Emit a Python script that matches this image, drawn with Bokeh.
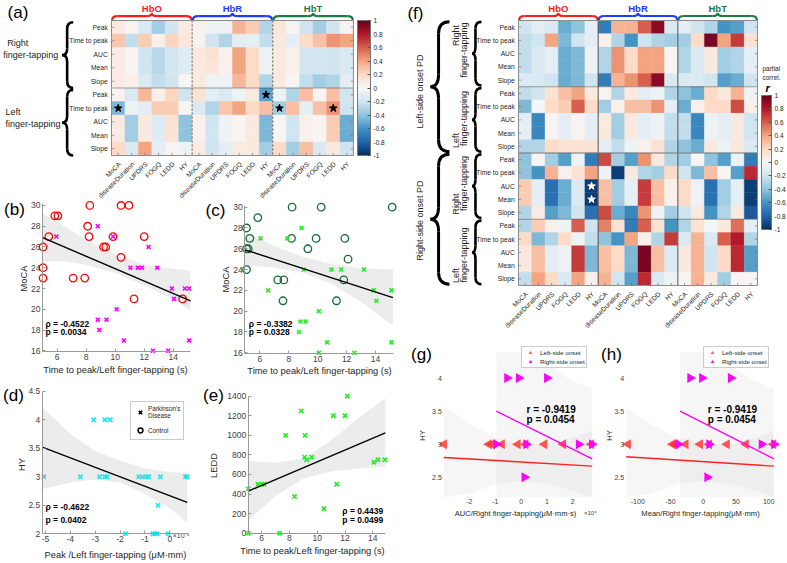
import numpy as np
from bokeh.plotting import figure
from bokeh.models import (ColumnDataSource, Range1d, LinearColorMapper, ColorBar, FixedTicker,
                          Legend, LegendItem, CustomJSTickFormatter, LinearAxis)
from bokeh.layouts import row, column
from bokeh.palettes import RdBu11
from bokeh.core.properties import value
from bokeh.embed import file_html
from bokeh.resources import INLINE

FONT = "Liberation Sans"
TXT = "#262626"

# ---------------- heatmap labels ----------------
measures = ["MoCA", "diseaseDuration", "UPDRS", "FOGQ", "LEDD", "HY"]
chromophores = ["HbO", "HbR", "HbT"]
chromo_colors = ["#ff1a1a", "#1f3cff", "#1c7a4a"]
features = ["Peak", "Time to peak", "AUC", "Mean", "Slope"]
cbar_ticks = [-1, -0.8, -0.6, -0.4, -0.2, 0, 0.2, 0.4, 0.6, 0.8, 1]

# ---------------- (a) partial correlations, all PD ----------------
a_R_peak = [0.10, 0.03, -0.15, -0.35, -0.20, 0.08, 0.05, -0.05, -0.05, 0.35, 0.25, -0.30, 0.12, 0.02, -0.20, -0.35, -0.20, 0.03]
a_R_ttp = [0.28, -0.25, 0.25, 0.05, 0.22, 0.12, 0.03, -0.20, -0.30, -0.10, -0.10, -0.25, 0.10, -0.10, 0.20, 0.30, 0.45, 0.40]
a_R_auc = [0.08, 0.02, -0.20, -0.28, -0.18, -0.12, 0.10, 0.15, 0.05, 0.40, 0.20, -0.05, 0.10, 0.05, -0.18, -0.18, -0.20, -0.15]
a_R_mean = [0.08, 0.02, -0.20, -0.28, -0.18, -0.12, 0.10, 0.12, 0.05, 0.40, 0.20, -0.05, 0.10, 0.05, -0.18, -0.18, -0.20, -0.15]
a_R_slope = [0.08, 0.06, -0.15, -0.25, -0.20, 0.02, 0.10, -0.05, -0.05, 0.33, 0.20, -0.30, 0.10, 0.02, -0.25, -0.35, -0.30, -0.10]
a_L_peak = [0.03, -0.15, 0.33, 0.05, 0.22, -0.20, 0.15, -0.10, -0.15, -0.05, 0.10, -0.55, -0.05, -0.30, 0.30, 0.02, 0.30, -0.20]
a_L_ttp = [-0.45, -0.05, -0.10, 0.25, 0.25, 0.02, -0.15, -0.30, 0.28, 0.40, 0.20, 0.30, -0.35, 0.30, -0.10, 0.30, 0.45, -0.20]
a_L_auc = [0.10, -0.35, 0.10, -0.12, 0.15, -0.40, 0.05, -0.20, -0.05, 0.02, 0.10, -0.45, 0.02, -0.20, 0.05, 0.02, 0.25, -0.50]
a_L_mean = [0.08, -0.35, 0.10, -0.12, 0.15, -0.40, 0.05, -0.20, -0.05, 0.02, 0.10, -0.45, 0.02, -0.20, 0.05, 0.02, 0.25, -0.50]
a_L_slope = [0.20, -0.15, 0.40, -0.10, 0.03, -0.05, 0.08, -0.20, -0.10, 0.10, 0.10, -0.35, 0.20, -0.35, 0.30, -0.15, 0.10, -0.20]
a_star_row = [5, 6, 6, 6]
a_star_col = [11, 0, 12, 16]

# ---------------- (f) partial correlations by onset side ----------------
f_L_R_peak = [-0.20, -0.10, -0.15, -0.50, -0.40, -0.10, -0.70, 0.35, 0.35, 0.60, 0.90, -0.15, -0.10, -0.20, -0.30, -0.60, -0.55, -0.20]
f_L_R_ttp = [-0.25, -0.20, 0.40, -0.45, -0.20, -0.10, 0.05, -0.30, -0.60, -0.20, -0.30, -0.35, -0.35, 0.20, 0.95, 0.40, 0.70, 0.15]
f_L_R_auc = [-0.25, -0.15, -0.10, -0.50, -0.45, -0.05, -0.30, 0.45, 0.20, 0.40, 0.40, 0.02, -0.30, -0.15, 0.10, -0.35, -0.30, -0.10]
f_L_R_mean = [-0.25, -0.15, -0.10, -0.50, -0.45, -0.05, -0.30, 0.45, 0.20, 0.40, 0.40, 0.02, -0.30, -0.15, 0.10, -0.35, -0.30, -0.10]
f_L_R_slope = [-0.15, -0.15, -0.20, -0.50, -0.45, -0.20, -0.70, 0.35, 0.45, 0.60, 0.90, -0.15, -0.15, -0.15, -0.20, -0.55, -0.50, -0.20]
f_L_L_peak = [-0.25, -0.20, 0.15, 0.30, 0.40, 0.10, 0.03, -0.30, 0.10, -0.10, -0.05, -0.30, -0.40, -0.50, 0.20, 0.10, 0.35, -0.05]
f_L_L_ttp = [-0.45, -0.02, 0.20, 0.25, 0.60, 0.20, -0.35, 0.05, 0.30, 0.30, 0.45, -0.10, -0.50, 0.05, 0.20, 0.20, 0.65, 0.05]
f_L_L_auc = [-0.10, -0.65, 0.03, -0.10, 0.03, -0.10, 0.10, -0.35, 0.10, -0.10, -0.05, -0.25, -0.25, -0.65, -0.05, -0.10, 0.10, -0.20]
f_L_L_mean = [-0.10, -0.65, 0.03, -0.10, 0.03, -0.10, 0.10, -0.35, 0.10, -0.10, -0.05, -0.25, -0.25, -0.65, -0.05, -0.10, 0.10, -0.20]
f_L_L_slope = [-0.30, -0.30, 0.20, 0.15, 0.15, 0.15, -0.10, -0.25, -0.05, 0.05, 0.15, -0.30, -0.40, -0.50, 0.10, -0.05, 0.10, -0.15]
f_R_R_peak = [-0.40, 0.02, -0.35, -0.55, -0.05, -0.70, 0.65, -0.35, -0.55, 0.45, 0.10, -0.30, -0.35, 0.02, -0.40, -0.55, -0.05, -0.70]
f_R_R_ttp = [-0.40, -0.60, 0.35, 0.05, 0.15, 0.40, -0.05, -0.95, 0.10, -0.30, -0.35, 0.20, -0.20, -0.45, 0.30, 0.03, -0.55, 0.75]
f_R_R_auc = [0.25, -0.10, -0.75, -0.50, -0.15, -0.95, 0.30, -0.35, -0.10, 0.70, 0.30, 0.05, 0.20, -0.05, -0.75, -0.35, -0.10, -0.95]
f_R_R_mean = [0.25, -0.10, -0.75, -0.50, -0.15, -0.95, 0.30, -0.35, -0.10, 0.70, 0.30, 0.05, 0.20, -0.05, -0.75, -0.35, -0.10, -0.95]
f_R_R_slope = [-0.30, 0.08, -0.55, -0.45, -0.20, -0.75, 0.65, -0.50, -0.65, 0.45, -0.05, -0.35, -0.20, 0.10, -0.60, -0.30, 0.10, -0.85]
f_R_L_peak = [-0.30, 0.25, 0.05, -0.05, 0.60, -0.20, 0.50, 0.15, -0.70, 0.60, 0.15, -0.60, -0.30, 0.15, -0.02, 0.10, 0.55, -0.10]
f_R_L_ttp = [0.20, -0.45, -0.30, 0.20, -0.05, -0.25, -0.40, -0.60, 0.40, 0.05, -0.30, 0.70, -0.15, 0.35, -0.15, 0.60, 0.80, -0.30]
f_R_L_auc = [0.10, 0.30, -0.10, -0.05, 0.70, -0.45, 0.30, 0.20, -0.45, 0.95, 0.30, -0.15, 0.10, 0.35, -0.20, 0.20, 0.75, -0.55]
f_R_L_mean = [0.10, 0.30, -0.10, -0.05, 0.70, -0.45, 0.30, 0.20, -0.45, 0.95, 0.30, -0.15, 0.10, 0.35, -0.20, 0.20, 0.75, -0.55]
f_R_L_slope = [-0.25, 0.40, 0.20, -0.15, 0.40, 0.05, 0.35, -0.20, -0.55, 0.75, -0.15, -0.05, 0.02, 0.35, 0.10, -0.35, 0.02, 0.02]
f_star_row = [12, 13]
f_star_col = [5, 5]

# ---------------- (b) MoCA vs time to peak (HbO) ----------------
b_ctrl_x = [5.03, 5.03, 5.03, 5.43, 5.84, 6.05, 7.1, 7.9, 8.1, 8.2, 8.25, 9.2, 9.35, 9.85, 10.4, 10.4, 10.95, 11.3, 12.0, 14.65]
b_ctrl_y = [26, 24, 23, 27, 29, 29, 23, 23, 28, 27, 30, 26, 26, 27, 25, 30, 30, 21, 27, 21]
b_pd_x = [5.95, 8.8, 8.8, 8.9, 9.4, 9.85, 10.1, 10.6, 11.05, 11.55, 11.85, 12.3, 12.6, 12.9, 13.65, 13.9, 14.05, 14.8, 15.1, 15.1]
b_pd_y = [27, 28, 19, 18, 19, 27, 20, 17, 24, 24, 24, 26, 16, 24, 16, 22, 21, 22, 22, 17]
b_fit_x = [5.0, 15.19]
b_fit_y = [26.9, 20.8]
b_ci_x = [5.0, 6.5, 8.0, 10.0, 12.0, 13.5, 15.19]
b_ci_hi = [29.2, 28.0, 26.7, 25.3, 24.3, 24.0, 23.7]
b_ci_lo = [24.6, 24.6, 24.3, 23.5, 22.3, 21.3, 19.9]

# ---------------- (c) MoCA vs time to peak (HbT) ----------------
c_ctrl_x = [5.08, 5.08, 5.08, 5.2, 5.31, 5.86, 7.24, 7.66, 7.6, 8.19, 8.23, 9.32, 9.89, 10.24, 11.3, 11.88, 11.8, 12.1, 15.15]
c_ctrl_y = [28, 26, 24, 26, 27, 29, 23, 23, 21, 27, 30, 26, 27, 30, 21, 27, 23, 25, 30]
c_pd_x = [6.05, 6.58, 7.9, 8.7, 8.81, 8.88, 9.04, 9.16, 10.08, 10.08, 10.65, 10.95, 11.62, 12.54, 13.19, 13.88, 14.06, 15.1, 15.1]
c_pd_y = [27, 22, 27, 18, 19, 28, 24, 19, 20, 16, 17, 24, 24, 16, 24, 22, 21, 22, 17]
c_fit_x = [4.98, 15.2]
c_fit_y = [25.9, 21.3]
c_ci_x = [4.98, 7.0, 9.0, 11.0, 13.0, 15.2]
c_ci_hi = [27.6, 26.3, 25.2, 24.5, 24.1, 24.0]
c_ci_lo = [24.4, 24.2, 23.7, 22.6, 20.9, 18.6]

# ---------------- (d) HY vs peak (x 1e-5) ----------------
d_pd_x = [-5.07, -3.59, -3.06, -2.61, -2.39, -2.82, -2.61, -2.52, -1.25, -1.1, -0.95, -0.85, -0.38, 0.63, 0.7, -0.47, -1.78, -0.68, -0.6, -0.51, -0.07]
d_pd_y = [3, 3, 4, 4, 4, 3, 3, 3, 3, 3, 3, 3, 3, 3, 3, 2.5, 2, 2, 2, 2, 2]
d_fit_x = [-5.13, 0.7]
d_fit_y = [3.52, 2.55]
d_ci_x = [-5.13, -4.0, -3.0, -2.0, -1.0, 0.0, 0.7]
d_ci_hi = [4.22, 3.75, 3.45, 3.28, 3.15, 3.08, 3.07]
d_ci_lo = [2.78, 2.9, 2.95, 2.9, 2.7, 2.45, 2.2]

# ---------------- (e) LEDD vs time to peak ----------------
e_pd_x = [5.04, 5.04, 5.74, 6.0, 6.17, 7.3, 7.73, 8.37, 8.85, 9.09, 9.24, 9.12, 9.6, 10.48, 11.16, 11.4, 12.0, 12.16, 14.08, 14.37, 14.87]
e_pd_y = [453, 0, 500, 500, 500, 0, 1000, 375, 1250, 777, 750, 1000, 777, 250, 1200, 500, 1200, 1400, 725, 750, 750]
e_fit_x = [5.04, 14.9]
e_fit_y = [430, 1025]
e_ci_x = [5.04, 7.0, 9.0, 11.0, 13.0, 14.9]
e_ci_hi = [740, 720, 760, 950, 1180, 1380]
e_ci_lo = [130, 380, 560, 630, 660, 680]

# ---------------- (g) HY vs AUC (x 1e4) ----------------
g_left_x = [-2.98, -1.25, -1.12, -0.74, -0.13, 0.17, 0.9, 1.63, 2.71]
g_left_y = [3, 3, 3, 3, 3, 3, 3, 3, 3]
g_right_x = [-0.54, -0.09, 1.0, 0.13, -0.96, 0.2, 2.23, 2.74]
g_right_y = [4, 4, 4, 2.5, 3, 3, 3, 3]
g_fitL_x = [-2.99, 2.75]
g_fitL_y = [2.8, 2.67]
g_fitR_x = [-0.96, 2.75]
g_fitR_y = [3.5, 2.78]
g_ciL_x = [-2.99, -2.0, -1.0, 0.0, 1.0, 2.0, 2.75]
g_ciL_hi = [3.58, 3.3, 3.1, 3.0, 3.0, 3.1, 3.2]
g_ciL_lo = [2.2, 2.25, 2.4, 2.45, 2.4, 2.3, 2.2]
g_ciR_x = [-0.96, 0.0, 1.0, 2.0, 2.75]
g_ciR_hi = [4.39, 4.39, 4.2, 3.95, 3.84]
g_ciR_lo = [2.2, 2.2, 2.2, 2.2, 2.2]

# ---------------- (h) HY vs Mean ----------------
h_left_x = [-115, -47, -43, -27, -5, 9, 36, 65, 107]
h_left_y = [3, 3, 3, 3, 3, 3, 3, 3, 3]
h_right_x = [-20, -2, 42, 6, -38, 9, 89, 108]
h_right_y = [4, 4, 4, 2.5, 3, 3, 3, 3]
h_fitL_x = [-117.7, 107.6]
h_fitL_y = [2.81, 2.67]
h_fitR_x = [-35.5, 107.6]
h_fitR_y = [3.5, 2.78]
h_ciL_x = [-117.7, -80, -40, 0, 40, 80, 107.6]
h_ciL_hi = [3.56, 3.3, 3.1, 3.0, 3.0, 3.1, 3.2]
h_ciL_lo = [2.2, 2.25, 2.4, 2.45, 2.4, 2.3, 2.2]
h_ciR_x = [-35.5, 0, 40, 80, 107.6]
h_ciR_hi = [4.39, 4.39, 4.2, 3.95, 3.84]
h_ciR_lo = [2.2, 2.2, 2.2, 2.2, 2.2]

# ---------------- colour map (blue = -1 ... red = +1) ----------------
rgb = np.array([[int(c[i:i + 2], 16) for i in (1, 3, 5)] for c in RdBu11], dtype=float)
stops = np.linspace(0, 1, len(RdBu11))
palette = []
for t in np.linspace(0, 1, 256):
    palette.append("#%02x%02x%02x" % tuple(int(round(np.interp(t, stops, rgb[:, k]))) for k in range(3)))
mapper = LinearColorMapper(palette=palette, low=-1, high=1)


def fmt():
    return CustomJSTickFormatter(code="return String(Math.round(tick*100)/100);")


def hbrace(p, xa, xb, yb, ym, yt, r, color, lw):
    xc = (xa + xb) / 2
    p.quadratic(x0=[xa, xc - r, xc, xb - r], y0=[yb, ym, yt, ym],
                x1=[xa + r, xc, xc + r, xb], y1=[ym, yt, ym, yb],
                cx=[xa, xc, xc, xb], cy=[ym, ym, ym, ym], line_color=color, line_width=lw)
    p.segment(x0=[xa + r, xc + r], y0=[ym, ym], x1=[xc - r, xb - r], y1=[ym, ym],
              line_color=color, line_width=lw)


def vbrace(p, ya, yb, xe, xm, xt, r, color, lw):
    yc = (ya + yb) / 2
    p.quadratic(x0=[xe, xm, xt, xm], y0=[ya, yc - r, yc, yb - r],
                x1=[xm, xt, xm, xe], y1=[ya + r, yc, yc + r, yb],
                cx=[xm, xm, xm, xm], cy=[ya, yc, yc, yb], line_color=color, line_width=lw)
    p.segment(x0=[xm, xm], y0=[ya + r, yc + r], x1=[xm, xm], y1=[yc - r, yb - r],
              line_color=color, line_width=lw)


def txt(p, x, y, s, size, color=TXT, align="left", baseline="middle", angle=0.0, style="normal"):
    p.text(x=x, y=y, text=s, text_font=value(FONT), text_font_size=size, text_color=color,
           text_align=align, text_baseline=baseline, angle=angle, text_font_style=style)


def make_heatmap(rows, width, height, x0, y0, cw, ch, star_r, star_c, star_color,
                 vline_dash, hsolid):
    n, m = len(rows), len(rows[0])
    p = figure(width=width, height=height,
               x_range=Range1d(-x0 / cw, (width - x0) / cw),
               y_range=Range1d((height - y0) / ch, -y0 / ch),
               x_axis_type=None, y_axis_type=None, title=None,
               toolbar_location=None, output_backend="svg", min_border=0)
    p.outline_line_color = None
    xs, ys, vs = [], [], []
    for i, r in enumerate(rows):
        for j, v in enumerate(r):
            xs.append(j + 0.5)
            ys.append(i + 0.5)
            vs.append(v)
    src = ColumnDataSource(dict(x=xs, y=ys, v=vs))
    cmap = {"field": "v", "transform": mapper}
    p.rect(x="x", y="y", width=1, height=1, source=src, fill_color=cmap, line_color=cmap, line_width=0.4)
    p.segment(x0=[6, 12], y0=[0, 0], x1=[6, 12], y1=[n, n], line_color="#555555",
              line_width=1, line_dash=vline_dash)
    dotted = [k for k in range(5, n, 5) if k not in hsolid]
    p.segment(x0=[0] * len(dotted), y0=dotted, x1=[m] * len(dotted), y1=dotted,
              line_color="#222222", line_width=0.8, line_dash="1 1")
    if hsolid:
        p.segment(x0=[0] * len(hsolid), y0=hsolid, x1=[m] * len(hsolid), y1=hsolid,
                  line_color="#777777", line_width=1.2)
    rc = [i + 0.5 for i in range(n)]
    cc = [j + 0.5 for j in range(m)]
    p.segment(x0=[0] * n, y0=rc, x1=[0.2] * n, y1=rc, line_color="#666666", line_width=0.6)
    p.segment(x0=[m] * n, y0=rc, x1=[m - 0.2] * n, y1=rc, line_color="#666666", line_width=0.6)
    p.segment(x0=cc, y0=[n] * m, x1=cc, y1=[n - 0.2] * m, line_color="#666666", line_width=0.6)
    p.quad(left=[0], right=[m], top=[0], bottom=[n], fill_color=None, line_color="#8c8c8c", line_width=1)
    p.scatter(x=[c + 0.5 for c in star_c], y=[r + 0.5 for r in star_r], marker="star", size=8,
              fill_color=star_color, line_color=star_color)
    txt(p, [-0.28] * n, rc, (features * (n // 5)), "6.7px", align="right")
    txt(p, [j + 0.6 for j in range(m)], [n + 0.55] * m, measures * 3, "6.6px",
        align="right", angle=np.pi / 4)
    return p


def add_cbar(p, x, y, w, h):
    cb = ColorBar(color_mapper=mapper, location=(x, y), width=w, height=h, padding=0,
                  orientation="vertical", ticker=FixedTicker(ticks=cbar_ticks), formatter=fmt(),
                  major_label_text_font_size="6.5px", major_label_text_font=FONT,
                  major_label_text_color=TXT, label_standoff=3, major_tick_in=3, major_tick_out=0,
                  major_tick_line_color="#555555", minor_tick_line_color=None,
                  bar_line_color="#777777", border_line_color=None, background_fill_color=None)
    p.add_layout(cb)


# ================= (a)  page box (0,0)-(400,200) =================
AX0, AY0, ACW, ACH = 111, 20, 13.44, 13.5
fa = make_heatmap([a_R_peak, a_R_ttp, a_R_auc, a_R_mean, a_R_slope,
                   a_L_peak, a_L_ttp, a_L_auc, a_L_mean, a_L_slope],
                  400, 200, AX0, AY0, ACW, ACH, a_star_row, a_star_col, "black", "2 2", [])
for g in range(3):
    hbrace(fa, 6 * g + 0.05, 6 * g + 5.95, -0.04, -0.32, -0.56, 0.4, chromo_colors[g], 2.2)
txt(fa, [6 * g + 3 for g in range(3)], [-0.89] * 3, chromophores, "9.5px", color=chromo_colors,
    align="center", style="bold")
vbrace(fa, 0.13, 5.0, -2.85, -3.3, -3.67, 0.5, "black", 2.6)
vbrace(fa, 5.15, 10.0, -2.85, -3.3, -3.67, 0.5, "black", 2.6)
txt(fa, [-7.76, -8.06, -7.89, -7.89], [1.7, 2.59, 6.81, 7.63],
    ["Right", "finger-tapping", "Left", "finger-tapping"], "9px")
txt(fa, [-6.96], [-0.61], ["(a)"], "17px", color="black", align="center")
add_cbar(fa, 357, 45, 13, 135)

# ================= (f)  page box (400,0)-(787,330) =================
FX0, FY0, FCW, FCH = 118, 20, 13.28, 13.25
ff = make_heatmap([f_L_R_peak, f_L_R_ttp, f_L_R_auc, f_L_R_mean, f_L_R_slope,
                   f_L_L_peak, f_L_L_ttp, f_L_L_auc, f_L_L_mean, f_L_L_slope,
                   f_R_R_peak, f_R_R_ttp, f_R_R_auc, f_R_R_mean, f_R_R_slope,
                   f_R_L_peak, f_R_L_ttp, f_R_L_auc, f_R_L_mean, f_R_L_slope],
                  387, 330, FX0, FY0, FCW, FCH, f_star_row, f_star_col, "white", "solid", [10])
for g in range(3):
    hbrace(ff, 6 * g + 0.05, 6 * g + 5.95, -0.04, -0.34, -0.57, 0.4, chromo_colors[g], 2.2)
txt(ff, [6 * g + 3 for g in range(3)], [-0.88] * 3, chromophores, "9.5px", color=chromo_colors,
    align="center", style="bold")
for k in range(4):
    vbrace(ff, 5 * k + 0.1, 5 * k + 4.9, -2.79, -3.24, -3.49, 0.5, "black", 2.6)
vbrace(ff, 0.1, 9.9, -5.2, -6.02, -6.63, 0.9, "black", 3)
vbrace(ff, 10.1, 19.9, -5.2, -6.02, -6.63, 0.9, "black", 3)
txt(ff, [-4.74, -4.07, -4.74, -4.07, -4.74, -4.07, -4.74, -4.07],
    [1.13, 2.23, 9.06, 7.4, 13.85, 12.3, 19.25, 17.7],
    ["Right", "finger-tapping", "Left", "finger-tapping",
     "Right", "finger-tapping", "Left", "finger-tapping"], "9px", align="center", angle=np.pi / 2)
txt(ff, [-7.38, -7.38], [5.36, 15.1], ["Left-side onset PD", "Right-side onset PD"], "9px",
    align="center", angle=np.pi / 2)
txt(ff, [-7.76], [-0.53], ["(f)"], "17px", color="black", align="center")
txt(ff, [18.37, 18.37], [3.62, 4.3], ["partial", "correl."], "6.5px")
txt(ff, [18.6], [5.13], ["r"], "11px", color="black", style="bold italic")
add_cbar(ff, 361, 101, 10, 134)


# ================= scatter panels =================
class Box:
    """Page box of a panel figure, and the page box of its plot area with its data limits."""

    def __init__(self, X0, Y0, W, H, pl, pr, pt, pb, xa, xb, ya, yb):
        self.X0, self.Y0, self.W, self.H = X0, Y0, W, H
        self.pl, self.pr, self.pt, self.pb = pl, pr, pt, pb
        self.xa, self.xb, self.ya, self.yb = xa, xb, ya, yb

    def X(self, px):
        return self.xa + (px - self.pl) * (self.xb - self.xa) / (self.pr - self.pl)

    def Y(self, py):
        return self.ya + (self.pb - py) * (self.yb - self.ya) / (self.pb - self.pt)


def scatter_panel(B, xticks, yticks, tick_size="8.5px", axis_color="#9a9a9a"):
    p = figure(width=B.W, height=B.H,
               x_range=Range1d(B.X(B.X0), B.X(B.X0 + B.W)),
               y_range=Range1d(B.Y(B.Y0 + B.H), B.Y(B.Y0)),
               x_axis_type=None, y_axis_type=None, title=None,
               toolbar_location=None, output_backend="svg", min_border=0)
    p.outline_line_color = None
    for place, loc, bounds, ticks in (("below", B.ya, (B.xa, B.xb), xticks),
                                      ("left", B.xa, (B.ya, B.yb), yticks)):
        ax = LinearAxis(fixed_location=loc, bounds=bounds, ticker=FixedTicker(ticks=ticks),
                        formatter=fmt(), axis_line_color=axis_color,
                        major_tick_line_color=axis_color, major_tick_in=3, major_tick_out=0,
                        minor_tick_line_color=None, major_label_text_font=FONT,
                        major_label_text_font_size=tick_size, major_label_text_color="#404040",
                        major_label_standoff=2)
        p.add_layout(ax, place)
    return p


def labels(p, B, letter, lpos, ylab, ypos, xlab, xpos, lab_size="9.3px"):
    txt(p, [B.X(lpos[0])], [B.Y(lpos[1])], [letter], "17px", color="black", align="center")
    txt(p, [B.X(ypos[0])], [B.Y(ypos[1])], [ylab], lab_size, align="center", angle=np.pi / 2)
    txt(p, [B.X(xpos[0])], [B.Y(xpos[1])], [xlab], lab_size, align="center")


BAND = dict(fill_color="#e0e0e0", fill_alpha=0.6)

# (b)
Bb = Box(0, 200, 200, 180, 42, 190, 203, 351, 4.99, 15.19, 15.93, 30.19)
fb = scatter_panel(Bb, [6, 8, 10, 12, 14], [16, 18, 20, 22, 24, 26, 28, 30])
fb.varea(x=b_ci_x, y1=b_ci_lo, y2=b_ci_hi, **BAND)
fb.scatter(b_ctrl_x, b_ctrl_y, marker="circle", size=7.5, fill_color=None, line_color="#ff0000", line_width=1.3)
fb.scatter(b_pd_x, b_pd_y, marker="x", size=5.5, line_color="#ff00ff", line_width=1.6)
fb.line(b_fit_x, b_fit_y, line_color="black", line_width=1.4)
txt(fb, [Bb.X(45)] * 2, [Bb.Y(323.3), Bb.Y(331.7)], ["ρ = -0.4522", "p = 0.0034"], "8.5px",
    color="black", style="bold")
labels(fb, Bb, "(b)", (14, 209), "MoCA", (23, 278), "Time to peak/Left finger-tapping (s)", (115, 369.5))

# (c)
Bc = Box(200, 200, 200, 180, 244.3, 392.7, 204.7, 353, 4.96, 15.22, 15.93, 30.19)
fc = scatter_panel(Bc, [6, 8, 10, 12, 14], [16, 18, 20, 22, 24, 26, 28, 30])
fc.varea(x=c_ci_x, y1=c_ci_lo, y2=c_ci_hi, **BAND)
fc.scatter(c_ctrl_x, c_ctrl_y, marker="circle", size=7.5, fill_color=None, line_color="#17693c", line_width=1.3)
fc.scatter(c_pd_x, c_pd_y, marker="x", size=5.5, line_color="#22ee22", line_width=1.6)
fc.line(c_fit_x, c_fit_y, line_color="black", line_width=1.4)
txt(fc, [Bc.X(248.3)] * 2, [Bc.Y(323.3), Bc.Y(331.7)], ["ρ = -0.3382", "p = 0.0328"], "8.5px",
    color="black", style="bold")
labels(fc, Bc, "(c)", (215, 210), "MoCA", (225.5, 279), "Time to peak/Left finger-tapping (s)", (319, 370.5))

# (d)
Bd = Box(0, 380, 200, 183, 41.7, 186.7, 390.7, 533.3, -5.13, 0.70, 2.0, 4.5)
fd = scatter_panel(Bd, [-5, -4, -3, -2, -1, 0], [2, 2.5, 3, 3.5, 4, 4.5])
fd.varea(x=d_ci_x, y1=d_ci_lo, y2=d_ci_hi, **BAND)
fd.scatter(d_pd_x, d_pd_y, marker="x", size=6, line_color="#22e4ee", line_width=1.6)
fd.line(d_fit_x, d_fit_y, line_color="black", line_width=1.4)
txt(fd, [Bd.X(45)] * 2, [Bd.Y(506.7), Bd.Y(519)], ["ρ = -0.4622", "p = 0.0402"], "8.5px",
    color="black", style="bold")
txt(fd, [Bd.X(189)], [Bd.Y(535)], ["×10⁻⁵"], "7px", color="#404040", align="right")
labels(fd, Bd, "(d)", (13, 395), "HY", (21, 464), "Peak /Left finger-tapping (μM·mm)", (115, 554))
pd_dummy = fd.scatter(np.array([np.nan]), np.array([np.nan]), marker="x", size=6,
                      line_color="black", line_width=1.6)
ctrl_dummy = fd.scatter(np.array([np.nan]), np.array([np.nan]), marker="circle", size=7,
                        fill_color=None, line_color="black", line_width=1.5)
fd.add_layout(Legend(items=[LegendItem(label="Parkinson's\nDisease", renderers=[pd_dummy]),
                            LegendItem(label="Control", renderers=[ctrl_dummy])],
                     location=(130, 123), label_text_font=FONT, label_text_font_size="6.3px",
                     label_text_color=TXT, glyph_width=12, glyph_height=12, label_height=9,
                     spacing=5, padding=3, margin=0, label_standoff=2,
                     border_line_color="#999999", background_fill_alpha=1))

# (e)
Be = Box(200, 380, 200, 183, 247.7, 385, 395.7, 532.7, 5.04, 14.91, 0, 1400)
fe = scatter_panel(Be, [6, 8, 10, 12, 14], [0, 200, 400, 600, 800, 1000, 1200, 1400])
fe.varea(x=e_ci_x, y1=e_ci_lo, y2=e_ci_hi, **BAND)
fe.scatter(e_pd_x, e_pd_y, marker="x", size=6, line_color="#22ee22", line_width=1.6)
fe.line(e_fit_x, e_fit_y, line_color="black", line_width=1.4)
txt(fe, [Be.X(382.7)] * 2, [Be.Y(510), Be.Y(519)], ["ρ = 0.4439", "p = 0.0499"], "8.5px",
    color="black", align="right", style="bold")
labels(fe, Be, "(e)", (213, 395), "LEDD", (213, 465), "Time to peak/Left finger-tapping (s)", (312, 550))

# (g), (h)
FAINT = dict(fill_color="#d0d0d0", fill_alpha=0.2)


def onset_panel(B, xticks, letter, lpos, ylpos, xlab, xlpos, lx, ly, rx, ry, fLx, fLy, fRx, fRy,
                cLx, cLlo, cLhi, cRx, cRlo, cRhi, stat_px, leg_loc):
    p = scatter_panel(B, xticks, [2.5, 3, 3.5, 4], tick_size="7px", axis_color=None)
    p.varea(x=cLx, y1=cLlo, y2=cLhi, **FAINT)
    p.varea(x=cRx, y1=cRlo, y2=cRhi, **FAINT)
    rl = p.scatter(lx, ly, marker="triangle", angle=np.pi / 2, size=10, fill_color="#ff2a2a",
                   line_color=None, fill_alpha=0.8)
    rr = p.scatter(rx, ry, marker="triangle", angle=-np.pi / 2, size=10, fill_color="#ff00ff",
                   line_color=None)
    p.line(fLx, fLy, line_color="#ff2020", line_width=1.4)
    p.line(fRx, fRy, line_color="#ff00ff", line_width=1.4)
    txt(p, [B.X(stat_px)] * 2, [B.Y(409), B.Y(418.5)], ["r = -0.9419", "p = 0.0454"], "10px",
        color="black", style="bold")
    p.add_layout(Legend(items=[LegendItem(label="Left-side onset", renderers=[rl]),
                               LegendItem(label="Right-side onset", renderers=[rr])],
                        location=leg_loc, label_text_font=FONT, label_text_font_size="6.2px",
                        label_text_color=TXT, glyph_width=14, glyph_height=9, label_height=8,
                        spacing=0, padding=1, margin=0, label_standoff=3,
                        border_line_color="#999999", background_fill_alpha=1))
    labels(p, B, letter, lpos, "HY", ylpos, xlab, xlpos, lab_size="7.6px")
    return p


Bg = Box(400, 330, 200, 233, 443.3, 591.7, 351.7, 496.7, -2.99, 2.75, 2.2, 4.39)
fg = onset_panel(Bg, [-2, -1, 0, 1, 2], "(g)", (421, 354), (421.7, 435),
                 "AUC/Right finger-tapping(μM·mm·s)", (515, 513.3),
                 g_left_x, g_left_y, g_right_x, g_right_y, g_fitL_x, g_fitL_y, g_fitR_x, g_fitR_y,
                 g_ciL_x, g_ciL_lo, g_ciL_hi, g_ciR_x, g_ciR_lo, g_ciR_hi, 526, (121, 195))
txt(fg, [Bg.X(583.5)], [Bg.Y(512)], ["×10⁴"], "6px", color="#404040")

Bh = Box(600, 330, 187, 233, 625.7, 773.3, 351.7, 496.7, -117.7, 107.6, 2.2, 4.39)
fh = onset_panel(Bh, [-100, -50, 0, 50, 100], "(h)", (611, 354), (609.3, 435),
                 "Mean/Right finger-tapping(μM·mm)", (700, 513.3),
                 h_left_x, h_left_y, h_right_x, h_right_y, h_fitL_x, h_fitL_y, h_fitR_x, h_fitR_y,
                 h_ciL_x, h_ciL_lo, h_ciL_hi, h_ciR_x, h_ciR_lo, h_ciR_hi, 707.3, (103, 195))

layout = row(column(fa, row(fb, fc), row(fd, fe)), column(ff, row(fg, fh)))
open("out.html", "w").write(file_html(layout, INLINE))
